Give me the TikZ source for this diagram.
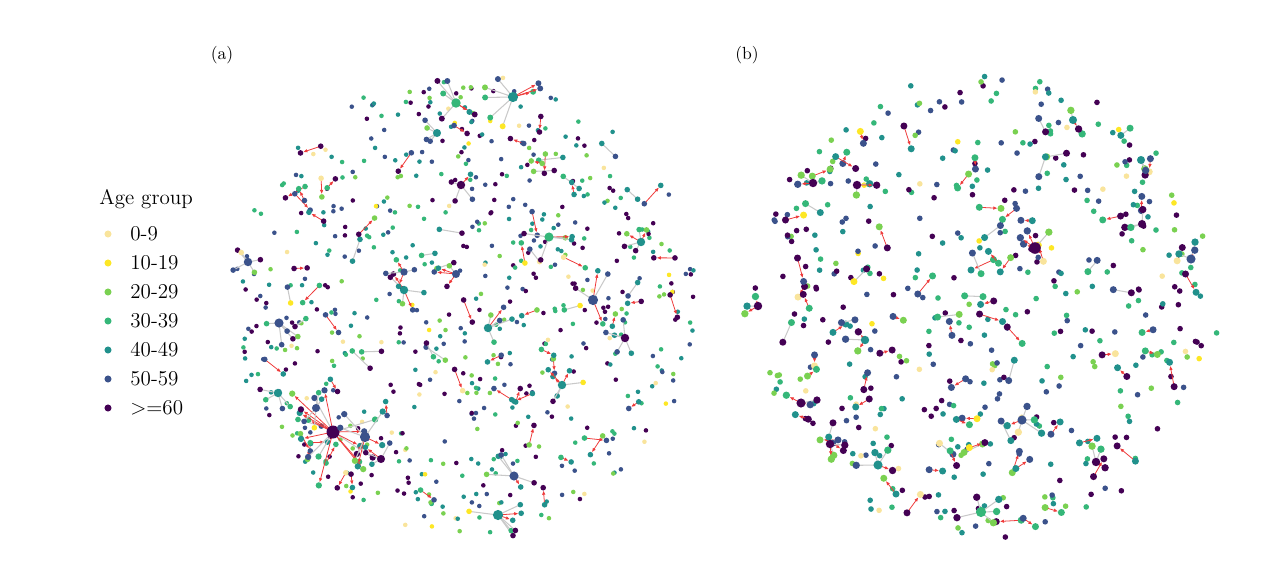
\documentclass[tikz,border=0pt]{standalone}
\usepackage{amsmath}
\usepackage{amssymb}
\usepackage{tikz}
\usetikzlibrary{arrows.meta}

\definecolor{age0}{HTML}{F9E49C}
\definecolor{age1}{HTML}{FDE725}
\definecolor{age2}{HTML}{7AD151}
\definecolor{age3}{HTML}{35B779}
\definecolor{age4}{HTML}{21918C}
\definecolor{age5}{HTML}{3B528B}
\definecolor{age6}{HTML}{440154}
\definecolor{linkred}{HTML}{EE3B3B}
\definecolor{linkgray}{HTML}{C9C9C9}

\begin{document}
\begin{tikzpicture}[x=0.02cm,y=-0.02cm,
  graylink/.style={draw=linkgray,line width=0.6pt},
  redlink/.style={draw=linkred,line width=0.45pt,-{Latex[length=2.4pt,width=2pt]}},
  legendtext/.style={anchor=west,inner sep=0pt,font=\fontsize{12}{14}\selectfont}]
\useasboundingbox (0,0) rectangle (1269,562);
\pgfmathsetseed{4711}

% panel labels
\node (labela) at (222,55) {(a)};
\node (labelb) at (747,55) {(b)};

% legend
\node[legendtext] (legtitle) at (99,199) {Age group};
\foreach \gidx/\txt in {0/0-9,1/10-19,2/20-29,3/30-39,4/40-49,5/50-59,6/\textgreater{}=60}{
  \fill[fill=age\gidx] (108,{234+29*\gidx}) circle (2pt);
  \node[legendtext] (leg\gidx) at (130,{234+29*\gidx}) {\txt};
}

% loose dots
\foreach \cx/\cy/\crad/\npts/\dsize in {465/305/232/560/1.3pt, 985/306/234/400/1.6pt}{
  \foreach \k in {1,...,\npts}{
    \pgfmathsetmacro\rdist{\crad*sqrt(rnd)}
    \pgfmathsetmacro\angl{360*rnd}
    \pgfmathrandominteger{\cidx}{0}{29}
    \pgfmathtruncatemacro\gidx{{6,6,6,6,6,6,6,5,5,5,5,5,5,4,4,4,4,4,4,3,3,3,3,3,2,2,2,2,1,0}[\cidx]}
    \fill[fill=age\gidx] ({\cx+\rdist*cos(\angl)},{\cy+\rdist*sin(\angl)}) circle (\dsize);
  }
}

% linked pairs
\foreach \cx/\cy/\crad/\npairs/\dsize in {465/305/220/70/1.6pt, 985/306/222/80/2pt}{
  \foreach \k in {1,...,\npairs}{
    \pgfmathsetmacro\rdist{\crad*sqrt(rnd)}
    \pgfmathsetmacro\angl{360*rnd}
    \pgfmathsetmacro\dir{360*rnd}
    \pgfmathsetmacro\len{11+14*rnd}
    \pgfmathsetmacro\px{\cx+\rdist*cos(\angl)}
    \pgfmathsetmacro\py{\cy+\rdist*sin(\angl)}
    \coordinate (p) at (\px,\py);
    \coordinate (q) at ({\px+\len*cos(\dir)},{\py+\len*sin(\dir)});
    \pgfmathrandominteger{\e}{0}{3}
    \ifnum\e=0 \draw[graylink] (p) -- (q); \else \draw[redlink,shorten >=\dsize] (p) -- (q); \fi
    \pgfmathrandominteger{\cidx}{0}{29}
    \pgfmathtruncatemacro\gidx{{6,6,6,6,6,6,6,5,5,5,5,5,5,4,4,4,4,4,4,3,3,3,3,3,2,2,2,2,1,0}[\cidx]}
    \fill[fill=age\gidx] (p) circle (\dsize);
    \pgfmathrandominteger{\cidx}{0}{29}
    \pgfmathtruncatemacro\gidx{{6,6,6,6,6,6,6,5,5,5,5,5,5,4,4,4,4,4,4,3,3,3,3,3,2,2,2,2,1,0}[\cidx]}
    \fill[fill=age\gidx] (q) circle (\dsize);
  }
}

% hubs with spokes
\foreach \hx/\hy/\hc/\ns/\maxlen/\hsize/\ssize in {
  333/432/6/16/58/3.7pt/1.8pt, 365/437/5/7/34/2.9pt/1.8pt, 456/103/3/6/30/2.7pt/1.7pt,
  513/97/4/8/34/2.9pt/1.7pt, 404/290/4/5/26/2.4pt/1.6pt, 404/272/5/4/22/2.1pt/1.6pt,
  549/237/3/5/26/2.6pt/1.6pt, 593/300/5/4/30/2.9pt/1.6pt, 498/515/4/7/30/2.9pt/1.6pt,
  514/476/5/5/28/2.6pt/1.6pt, 488/328/4/5/26/2.4pt/1.6pt, 279/323/5/5/24/2.6pt/1.6pt,
  248/262/5/5/22/2.4pt/1.6pt, 641/242/4/5/22/2.4pt/1.6pt, 625/338/6/5/24/2.4pt/1.6pt,
  278/393/4/4/22/2.4pt/1.6pt, 562/385/4/6/26/2.4pt/1.6pt, 461/185/6/4/22/2.4pt/1.6pt,
  437/133/4/4/22/2.3pt/1.6pt, 456/274/5/4/22/2.3pt/1.6pt, 316/408/5/4/20/2.3pt/1.6pt,
  381/459/6/4/20/2.3pt/1.6pt,
  1035/248/6/4/24/3.3pt/2.1pt, 981/512/3/5/26/2.9pt/2.1pt, 1022/420/5/5/26/2.6pt/2.1pt,
  878/465/4/4/22/2.6pt/2.1pt, 801/403/6/3/20/2.6pt/2.1pt, 1191/259/5/3/20/2.6pt/2.1pt,
  865/340/4/3/20/2.4pt/2.1pt, 830/444/6/3/20/2.4pt/2.1pt, 758/306/6/3/18/2.4pt/2.1pt,
  1096/462/6/3/18/2.4pt/2.1pt, 813/183/6/3/20/2.4pt/2.1pt, 857/185/6/3/20/2.4pt/2.1pt,
  1142/224/6/3/20/2.3pt/2.1pt, 1073/120/4/3/18/2.3pt/2.1pt, 1141/160/4/3/18/2.3pt/2.1pt}{
  \coordinate (hub) at (\hx,\hy);
  \foreach \s in {1,...,\ns}{
    \pgfmathsetmacro\dir{360*rnd}
    \pgfmathsetmacro\len{\maxlen*(0.45+0.55*rnd)}
    \coordinate (spoke) at ({\hx+\len*cos(\dir)},{\hy+\len*sin(\dir)});
    \pgfmathrandominteger{\e}{0}{2}
    \ifnum\e=0 \draw[redlink,shorten >=\ssize] (hub) -- (spoke); \else \draw[graylink] (hub) -- (spoke); \fi
    \pgfmathrandominteger{\cidx}{0}{29}
    \pgfmathtruncatemacro\gidx{{6,6,6,6,6,6,6,5,5,5,5,5,5,4,4,4,4,4,4,3,3,3,3,3,2,2,2,2,1,0}[\cidx]}
    \fill[fill=age\gidx] (spoke) circle (\ssize);
  }
  \fill[fill=age\hc] (hub) circle (\hsize);
}
\end{tikzpicture}
\end{document}
